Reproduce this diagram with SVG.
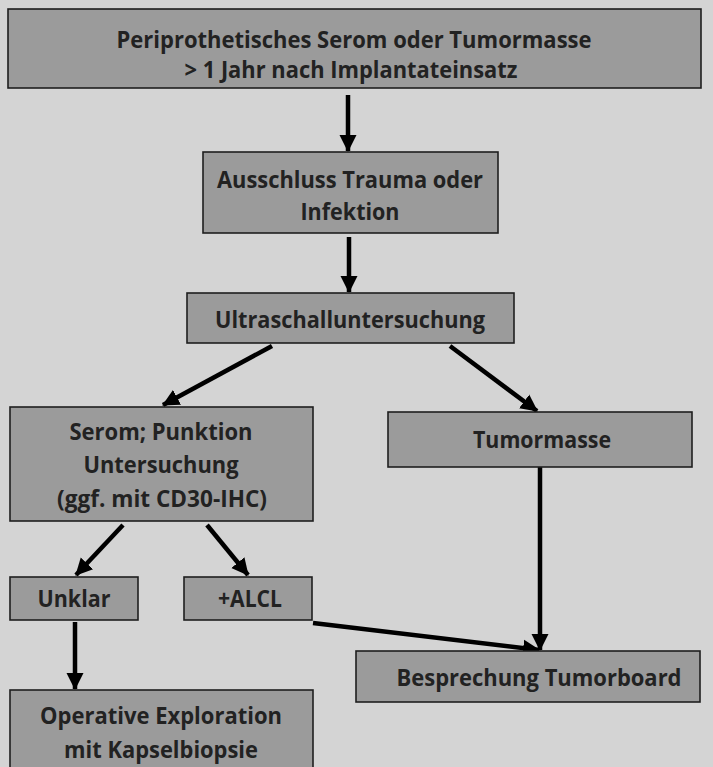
<svg xmlns="http://www.w3.org/2000/svg" width="713" height="767" viewBox="0 0 713 767">
<style>
.box{fill:#9b9b9b;stroke:#1e1e1e;stroke-width:1.6}
.t{font-family:"Open Sans",Lato,sans-serif;font-weight:700;font-size:23.5px;fill:#222;text-anchor:middle}
.c{stroke:#000;stroke-width:4.5;fill:none;marker-end:url(#ah)}
</style>
<defs>
<marker id="ah" markerUnits="userSpaceOnUse" markerWidth="18" markerHeight="18" viewBox="0 0 18 18" refX="16" refY="9" orient="auto">
<path d="M0,0.5 L17,9 L0,17.5 Z" fill="#000"/>
</marker>
</defs>
<rect width="713" height="767" fill="#d4d4d4"/>
<g id="connectors">
<line class="c" x1="348" y1="95" x2="348" y2="151"/>
<line class="c" x1="349" y1="237" x2="349" y2="292"/>
<line class="c" x1="272" y1="346" x2="163" y2="405"/>
<line class="c" x1="450" y1="346" x2="537" y2="411"/>
<line class="c" x1="123" y1="525" x2="76" y2="575"/>
<line class="c" x1="207" y1="525" x2="248" y2="575"/>
<line class="c" x1="540" y1="467" x2="540" y2="650"/>
<line class="c" x1="313" y1="623" x2="539" y2="650"/>
<line class="c" x1="75" y1="622" x2="75" y2="689"/>
</g>
<g id="n1">
<rect class="box" x="8" y="9" width="693" height="79"/>
<text class="t" x="354" y="48" font-size="22.5" textLength="475" lengthAdjust="spacingAndGlyphs">Periprothetisches Serom oder Tumormasse</text>
<text class="t" x="351" y="78" font-size="22.5" textLength="333" lengthAdjust="spacingAndGlyphs">&gt; 1 Jahr nach Implantateinsatz</text>
</g>
<g id="n2">
<rect class="box" x="203" y="152" width="295" height="81"/>
<text class="t" x="350" y="188" textLength="266" lengthAdjust="spacingAndGlyphs">Ausschluss Trauma oder</text>
<text class="t" x="350" y="220" textLength="99" lengthAdjust="spacingAndGlyphs">Infektion</text>
</g>
<g id="n3">
<rect class="box" x="187" y="293" width="327" height="50"/>
<text class="t" x="350" y="328" textLength="270" lengthAdjust="spacingAndGlyphs">Ultraschalluntersuchung</text>
</g>
<g id="n4">
<rect class="box" x="10" y="407" width="303" height="114"/>
<text class="t" x="161" y="440" textLength="183" lengthAdjust="spacingAndGlyphs">Serom; Punktion</text>
<text class="t" x="161" y="473" textLength="155" lengthAdjust="spacingAndGlyphs">Untersuchung</text>
<text class="t" x="162" y="507" textLength="210" lengthAdjust="spacingAndGlyphs">(ggf. mit CD30-IHC)</text>
</g>
<g id="n5">
<rect class="box" x="388" y="412" width="304" height="55"/>
<text class="t" x="542" y="448" textLength="138" lengthAdjust="spacingAndGlyphs">Tumormasse</text>
</g>
<g id="n6">
<rect class="box" x="10" y="577" width="128" height="43"/>
<text class="t" x="74" y="607" textLength="73" lengthAdjust="spacingAndGlyphs">Unklar</text>
</g>
<g id="n7">
<rect class="box" x="184" y="577" width="128" height="43"/>
<text class="t" x="250" y="607" textLength="64" lengthAdjust="spacingAndGlyphs">+ALCL</text>
</g>
<g id="n8">
<rect class="box" x="356" y="651" width="344" height="51"/>
<text class="t" x="539" y="686" textLength="285" lengthAdjust="spacingAndGlyphs">Besprechung Tumorboard</text>
</g>
<g id="n9">
<rect class="box" x="10" y="690" width="303" height="82"/>
<text class="t" x="161" y="724" textLength="242" lengthAdjust="spacingAndGlyphs">Operative Exploration</text>
<text class="t" x="161" y="758" textLength="194" lengthAdjust="spacingAndGlyphs">mit Kapselbiopsie</text>
</g>
</svg>
